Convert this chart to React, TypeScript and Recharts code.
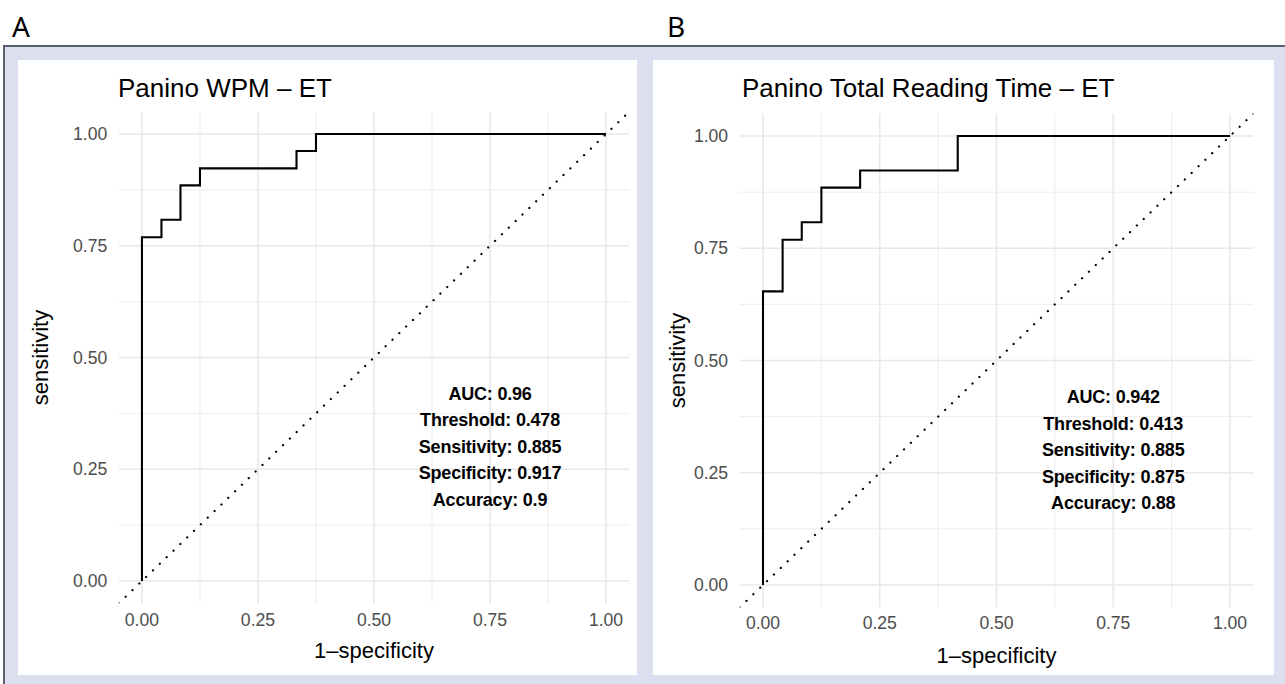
import React from 'react';
import { LineChart, Line, XAxis, YAxis, ReferenceLine, ReferenceDot } from 'recharts';

// tick positions (ggplot major + minor breaks)
const majorTicks = [0, 0.25, 0.5, 0.75, 1];
const minorTicks = [0.125, 0.375, 0.625, 0.875];

// reference diagonal
const diagX = [-0.05, 1.05];
const diagY = [-0.05, 1.05];

// panel A - Panino WPM
const fprA = [0, 0, 0.042, 0.083, 0.125, 0.333, 0.375, 1];
const sensA = [0, 0.769, 0.808, 0.885, 0.923, 0.962, 1, 1];
const statsA = ['AUC: 0.96', 'Threshold: 0.478', 'Sensitivity: 0.885', 'Specificity: 0.917', 'Accuracy: 0.9'];

// panel B - Panino Total Reading Time
const fprB = [0, 0, 0.042, 0.083, 0.125, 0.208, 0.417, 1];
const sensB = [0, 0.654, 0.769, 0.808, 0.885, 0.923, 1, 1];
const statsB = ['AUC: 0.942', 'Threshold: 0.413', 'Sensitivity: 0.885', 'Specificity: 0.875', 'Accuracy: 0.88'];

const FONT = '"Liberation Sans", Arial, Helvetica, sans-serif';
const fmt = (v: number) => v.toFixed(2);

interface Layout {
  left: number;
  top: number;
  width: number;
  height: number;
  plotLeft: number;
  plotTop: number;
  plotRight: number;
  xAxisHeight: number;
  titleX: number;
  titleY: number;
  xTitleDy: number;
  yTitleX: number;
  tickMargin: number;
}

const layoutA: Layout = {
  left: 18, top: 60, width: 619, height: 615,
  plotLeft: 100.75, plotTop: 51.65, plotRight: 7.75, xAxisHeight: 71.65,
  titleX: 100, titleY: 13, xTitleDy: 54.5, yTitleX: 29.5, tickMargin: 10.3,
};

const layoutB: Layout = {
  left: 653, top: 60, width: 621, height: 615,
  plotLeft: 86.65, plotTop: 53.55, plotRight: 20.65, xAxisHeight: 67.55,
  titleX: 89, titleY: 13, xTitleDy: 55.5, yTitleX: 31.5, tickMargin: 9,
};

interface PanelProps {
  title: string;
  fpr: number[];
  sens: number[];
  stats: string[];
  layout: Layout;
}

const RocPanel: React.FC<PanelProps> = ({ title, fpr, sens, stats, layout }) => {
  const roc = fpr.map((x, i) => ({ x, y: sens[i] }));
  const diag = diagX.map((x, i) => ({ x, y: diagY[i] }));

  const XTitle = (props: any) => {
    const vb = props.viewBox;
    return (
      <text x={vb.x + vb.width / 2} y={vb.y + layout.xTitleDy} textAnchor="middle" fill="#000" fontSize={22} fontFamily={FONT}>
        1–specificity
      </text>
    );
  };

  const YTitle = (props: any) => {
    const vb = props.viewBox;
    const x = vb.x + layout.yTitleX;
    const y = vb.y + vb.height / 2;
    return (
      <text x={x} y={y} transform={`rotate(-90, ${x}, ${y})`} textAnchor="middle" fill="#000" fontSize={22} fontFamily={FONT}>
        sensitivity
      </text>
    );
  };

  // 统计信息文本块
  const StatsLabel = (props: any) => {
    const vb = props.viewBox;
    return (
      <g>
        {stats.map((s, i) => (
          <text
            key={s}
            x={vb.x}
            y={vb.y + (i - 2) * 26.5}
            textAnchor="middle"
            dominantBaseline="central"
            fill="#000"
            fontSize={18}
            fontWeight="bold"
            letterSpacing={-0.2}
            fontFamily={FONT}
          >
            {s}
          </text>
        ))}
      </g>
    );
  };

  return (
    <div style={{ position: 'absolute', left: layout.left, top: layout.top, width: layout.width, height: layout.height, background: '#fff' }}>
      <div style={{ position: 'absolute', left: layout.titleX, top: layout.titleY, fontFamily: FONT, fontSize: 26, lineHeight: '30px', color: '#000', whiteSpace: 'nowrap' }}>
        {title}
      </div>
      <LineChart width={layout.width} height={layout.height} margin={{ top: layout.plotTop, right: layout.plotRight, left: 0, bottom: 0 }}>
        <XAxis
          dataKey="x"
          type="number"
          domain={[-0.05, 1.05]}
          allowDataOverflow
          ticks={majorTicks}
          tickFormatter={fmt}
          axisLine={false}
          tickLine={false}
          tickSize={0}
          tickMargin={layout.tickMargin}
          height={layout.xAxisHeight}
          tick={{ fill: '#4d4d4d', fontSize: 17.6, fontFamily: FONT }}
          label={XTitle}
        />
        <YAxis
          dataKey="y"
          type="number"
          domain={[-0.05, 1.05]}
          allowDataOverflow
          ticks={majorTicks}
          tickFormatter={fmt}
          axisLine={false}
          tickLine={false}
          tickSize={0}
          tickMargin={11.5}
          width={layout.plotLeft}
          tick={{ fill: '#4d4d4d', fontSize: 17.6, fontFamily: FONT }}
          label={YTitle}
        />
        {minorTicks.map((v) => (
          <ReferenceLine key={`mx${v}`} x={v} stroke="#ebebeb" strokeWidth={0.9} />
        ))}
        {minorTicks.map((v) => (
          <ReferenceLine key={`my${v}`} y={v} stroke="#ebebeb" strokeWidth={0.9} />
        ))}
        {majorTicks.map((v) => (
          <ReferenceLine key={`x${v}`} x={v} stroke="#e8e8e8" strokeWidth={1.6} />
        ))}
        {majorTicks.map((v) => (
          <ReferenceLine key={`y${v}`} y={v} stroke="#e8e8e8" strokeWidth={1.6} />
        ))}
        <Line
          data={diag}
          dataKey="y"
          type="linear"
          stroke="#000"
          strokeWidth={2.2}
          strokeDasharray="0.1 9.4"
          strokeLinecap="round"
          dot={false}
          activeDot={false}
          isAnimationActive={false}
        />
        <Line
          data={roc}
          dataKey="y"
          type="stepAfter"
          stroke="#000"
          strokeWidth={2.1}
          dot={false}
          activeDot={false}
          isAnimationActive={false}
        />
        <ReferenceDot x={0.75} y={0.3} r={0} fill="none" stroke="none" label={StatsLabel} />
      </LineChart>
    </div>
  );
};

export default function App() {
  return (
    <div style={{ position: 'absolute', left: 0, top: 0, width: 1285, height: 684, background: '#fff', overflow: 'hidden' }}>
      <div style={{ position: 'absolute', left: 12, top: 8, fontFamily: '"Noto Sans", sans-serif', fontSize: 28, lineHeight: '36px', color: '#000' }}>A</div>
      <div style={{ position: 'absolute', left: 667, top: 8, fontFamily: '"Noto Sans", sans-serif', fontSize: 28, lineHeight: '36px', color: '#000' }}>B</div>
      {/* outer frame */}
      <div style={{ position: 'absolute', left: 3, top: 45, width: 1282, height: 639, background: '#dcdfef', borderTop: '2.5px solid #595e70', borderLeft: '2.5px solid #595e70', boxSizing: 'border-box' }} />
      <RocPanel title="Panino WPM – ET" fpr={fprA} sens={sensA} stats={statsA} layout={layoutA} />
      <RocPanel title="Panino Total Reading Time – ET" fpr={fprB} sens={sensB} stats={statsB} layout={layoutB} />
    </div>
  );
}
